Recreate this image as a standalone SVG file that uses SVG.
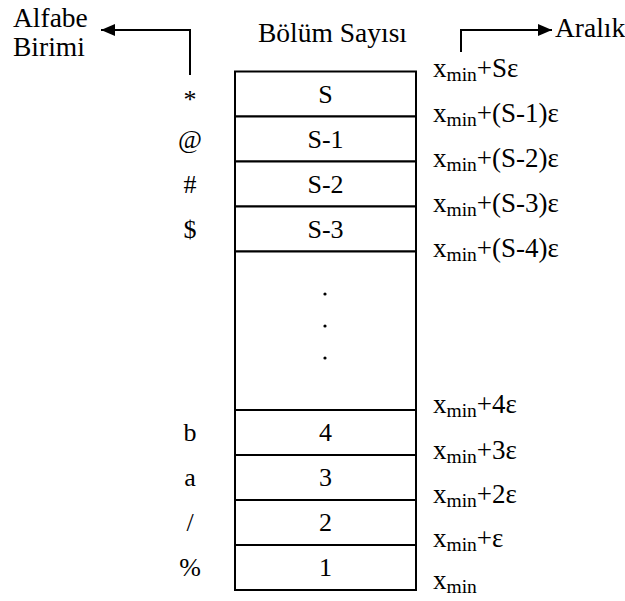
<svg xmlns="http://www.w3.org/2000/svg" width="625" height="601" viewBox="0 0 625 601">
  <style>
    text { font-family: "Liberation Serif", "Times New Roman", serif; fill: #000; }
    .h { font-size: 27.5px; }
    .t { font-size: 26px; }
    .c { text-anchor: middle; }
    .lbl { font-size: 27px; }
    .sub { font-size: 19.5px; }
    .cell { fill: #fff; stroke: #000; stroke-width: 2; }
    .conn { fill: none; stroke: #000; stroke-width: 2; }
  </style>
  <defs>
    <marker id="head" viewBox="0 0 14 12" refX="14" refY="6" markerWidth="14" markerHeight="12" markerUnits="userSpaceOnUse" orient="auto">
      <path d="M0,0 L14,6 L0,12 Z" fill="#000"/>
    </marker>
  </defs>

  <rect width="625" height="601" fill="#fff"/>

  <!-- headings -->
  <g id="title-alfabe">
    <text class="h" x="13" y="27">Alfabe</text>
    <text class="h" x="13" y="56">Birimi</text>
  </g>
  <g id="title-bolum">
    <text class="h" x="258" y="42">Bölüm Sayısı</text>
  </g>
  <g id="title-aralik">
    <text class="h" x="555" y="37">Aralık</text>
  </g>

  <!-- connectors -->
  <g id="connectors">
    <path class="conn" d="M190,75 V30 H101" marker-end="url(#head)"/>
    <path class="conn" d="M461,52 V30 H552" marker-end="url(#head)"/>
  </g>

  <!-- partition column -->
  <g id="cell-S"><rect class="cell" x="235" y="71.5" width="181" height="45"/><text class="t c" x="325.5" y="103">S</text></g>
  <g id="cell-S-1"><rect class="cell" x="235" y="116.5" width="181" height="45"/><text class="t c" x="325.5" y="148">S-1</text></g>
  <g id="cell-S-2"><rect class="cell" x="235" y="161.5" width="181" height="45"/><text class="t c" x="325.5" y="193">S-2</text></g>
  <g id="cell-S-3"><rect class="cell" x="235" y="206.5" width="181" height="45"/><text class="t c" x="325.5" y="238">S-3</text></g>
  <g id="cell-gap">
    <rect class="cell" x="235" y="251.5" width="181" height="158.5"/>
    <circle cx="325" cy="294" r="1.6" fill="#000"/>
    <circle cx="325" cy="326" r="1.6" fill="#000"/>
    <circle cx="325" cy="358" r="1.6" fill="#000"/>
  </g>
  <g id="cell-4"><rect class="cell" x="235" y="410" width="181" height="45"/><text class="t c" x="325.5" y="441">4</text></g>
  <g id="cell-3"><rect class="cell" x="235" y="455" width="181" height="45"/><text class="t c" x="325.5" y="486">3</text></g>
  <g id="cell-2"><rect class="cell" x="235" y="500" width="181" height="45"/><text class="t c" x="325.5" y="531">2</text></g>
  <g id="cell-1"><rect class="cell" x="235" y="545" width="181" height="45"/><text class="t c" x="325.5" y="576">1</text></g>

  <!-- alphabet symbols -->
  <g id="symbols">
    <text class="t c" x="190" y="108">*</text>
    <text class="t c" x="190" y="148">@</text>
    <text class="t c" x="190" y="193">#</text>
    <text class="t c" x="190" y="238">$</text>
    <text class="t c" x="190" y="441">b</text>
    <text class="t c" x="190" y="486">a</text>
    <text class="t c" x="190" y="531">/</text>
    <text class="t c" x="190" y="576">%</text>
  </g>

  <!-- interval bounds -->
  <g id="bounds">
    <text class="lbl" x="433" y="77">x<tspan class="sub" dy="4">min</tspan><tspan dy="-4">+Sε</tspan></text>
    <text class="lbl" x="433" y="122">x<tspan class="sub" dy="4">min</tspan><tspan dy="-4">+(S-1)ε</tspan></text>
    <text class="lbl" x="433" y="167">x<tspan class="sub" dy="4">min</tspan><tspan dy="-4">+(S-2)ε</tspan></text>
    <text class="lbl" x="433" y="212">x<tspan class="sub" dy="4">min</tspan><tspan dy="-4">+(S-3)ε</tspan></text>
    <text class="lbl" x="433" y="257">x<tspan class="sub" dy="4">min</tspan><tspan dy="-4">+(S-4)ε</tspan></text>
    <text class="lbl" x="433" y="413">x<tspan class="sub" dy="4">min</tspan><tspan dy="-4">+4ε</tspan></text>
    <text class="lbl" x="433" y="459">x<tspan class="sub" dy="4">min</tspan><tspan dy="-4">+3ε</tspan></text>
    <text class="lbl" x="433" y="503">x<tspan class="sub" dy="4">min</tspan><tspan dy="-4">+2ε</tspan></text>
    <text class="lbl" x="433" y="547">x<tspan class="sub" dy="4">min</tspan><tspan dy="-4">+ε</tspan></text>
    <text class="lbl" x="433" y="589">x<tspan class="sub" dy="4">min</tspan></text>
  </g>
</svg>
